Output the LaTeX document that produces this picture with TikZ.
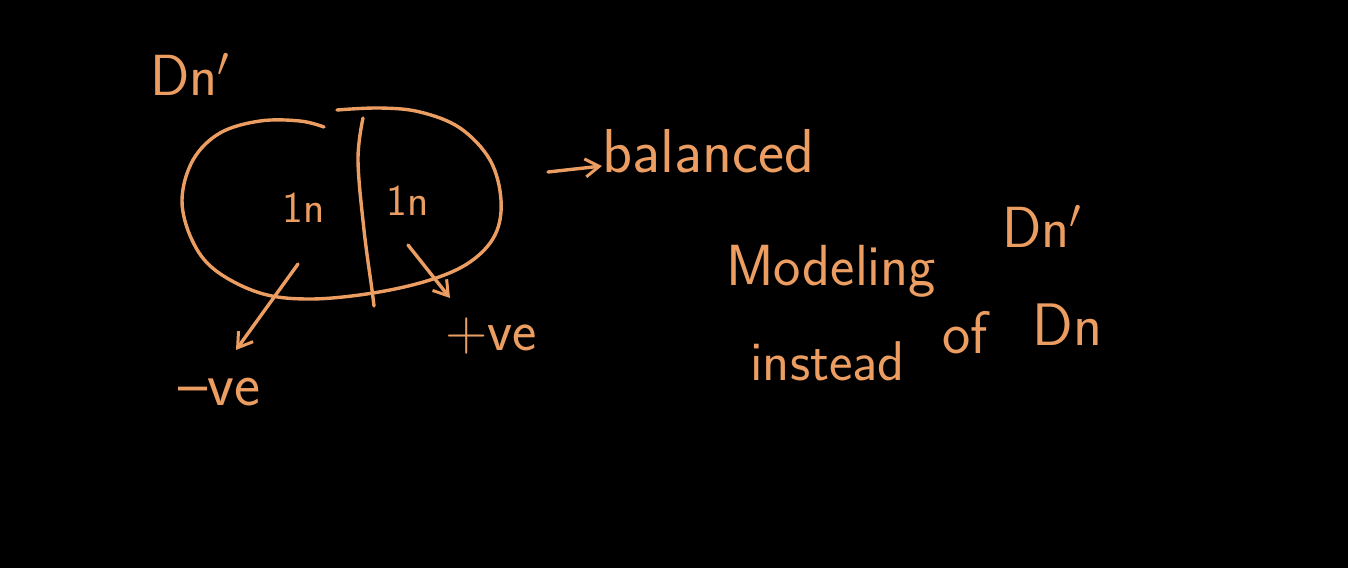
\documentclass[tikz,border=0pt]{standalone}
\usepackage{fontspec}
\usetikzlibrary{arrows.meta}
\definecolor{chalk}{RGB}{236,158,98}
\tikzset{
  ink/.style={draw=chalk, line width=1.7pt, line cap=round, line join=round},
  hand/.style={text=chalk, inner sep=0pt, anchor=base west, font=\sffamily},
  tip/.style={-{Straight Barb[length=7pt,width=9pt,line width=1.5pt]}}
}
\begin{document}
\begin{tikzpicture}[x=0.5pt,y=-0.5pt]
\fill[black] (0,0) rectangle (1348,568);
\useasboundingbox (0,0) rectangle (1348,568);

% title
\node[hand, font=\sffamily\fontsize{29pt}{30pt}\selectfont] (title) at (150,95) {Dn$'$};

% oval split in two halves
\draw[ink] plot[smooth, tension=0.6] coordinates {
  (324,127) (300,121) (260,121) (220,133) (193,160) (182,200) (192,240)
  (215,270) (260,293) (310,299) (373,293) (430,280) (470,262) (495,235)
  (501,200) (490,160) (460,128) (420,112) (380,108) (337,110)};
\draw[ink] plot[smooth, tension=0.6] coordinates {
  (363,118) (358,160) (364,230) (372,290) (374,306)};

\node[hand, font=\sffamily\fontsize{22pt}{23pt}\selectfont] (left) at (282,222) {1n};
\node[hand, font=\sffamily\fontsize{22pt}{23pt}\selectfont] (right) at (386,215) {1n};

% arrows to -ve and +ve
\coordinate (ls) at (298,264);
\coordinate (le) at (236,350);
\draw[ink, tip] (ls) -- (le);
\node[hand, font=\sffamily\fontsize{31pt}{32pt}\selectfont] (neg) at (178,405) {--ve};

\coordinate (rs) at (408,245);
\coordinate (re) at (450,298);
\draw[ink, tip] (rs) -- (re);
\node[hand, font=\sffamily\fontsize{29pt}{30pt}\selectfont] (pos) at (445,350) {+ve};

% balanced
\node[hand, font=\sffamily\fontsize{31pt}{32pt}\selectfont] (bal) at (602,172) {balanced};
\coordinate (bs) at (548,172);
\draw[ink, tip] (bs) -- (bal.west |- 0,166);

% right-hand notes
\node[hand, font=\sffamily\fontsize{29pt}{30pt}\selectfont] (model) at (726,285) {Modeling};
\node[hand, font=\sffamily\fontsize{29pt}{30pt}\selectfont] (dn2) at (1002,247) {Dn$'$};
\node[hand, font=\sffamily\fontsize{28pt}{29pt}\selectfont] (inst) at (750,380) {instead};
\node[hand, font=\sffamily\fontsize{30pt}{31pt}\selectfont] (of) at (942,353) {of};
\node[hand, font=\sffamily\fontsize{30pt}{31pt}\selectfont] (dn3) at (1032,345) {Dn};
\end{tikzpicture}
\end{document}
